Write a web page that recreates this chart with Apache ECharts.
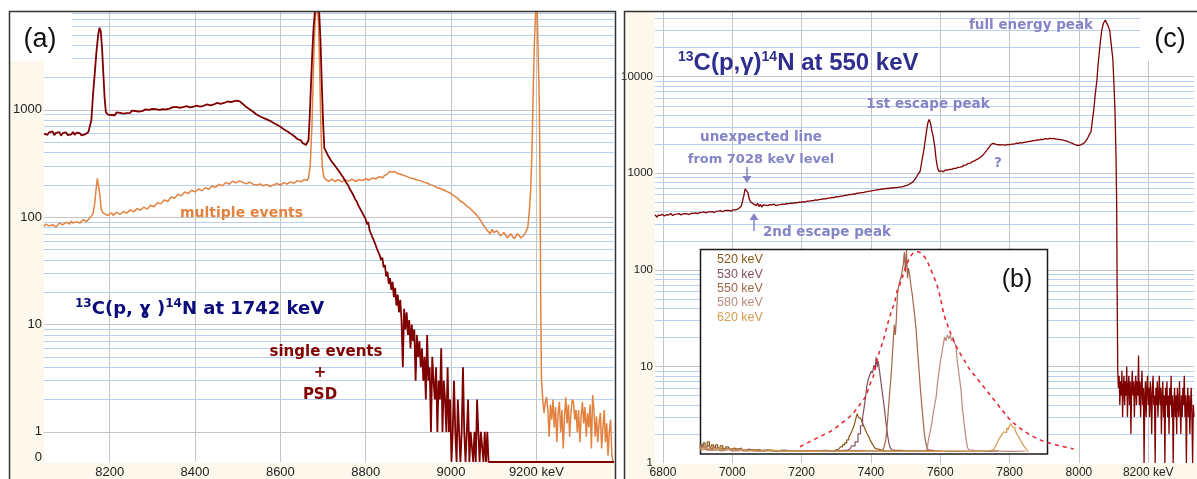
<!DOCTYPE html>
<html><head><meta charset="utf-8">
<script src="https://cdn.jsdelivr.net/npm/echarts@6/dist/echarts.min.js"></script>
<style>html,body{margin:0;padding:0;background:#fff}#c{width:1197px;height:479px}</style>
</head><body><div id="c"></div>
<script>
// ---------- tick labels ----------
const xTicksA = [8200, 8400, 8600, 8800, 9000, 9200];
const yTicksA = [1, 10, 100, 1000];
const xTicksC = [6800, 7000, 7200, 7400, 7600, 7800, 8000, 8200];
const yTicksC = [1, 10, 100, 1000, 10000];
const minorA = [2,3,4,5,6,7,8,9,20,30,40,50,60,70,80,90,200,300,400,500,600,700,800,900,2000,3000,4000,5000,6000,7000,8000];
const minorC = [2,3,4,5,6,7,8,9,20,30,40,50,60,70,80,90,200,300,400,500,600,700,800,900,2000,3000,4000,5000,6000,7000,8000,9000,20000,30000,40000];
const insetLegend = ['520 keV', '530 keV', '550 keV', '580 keV', '620 keV'];

// ---------- (a) 13C(p,g)14N at 1742 keV : single events + PSD ----------
const singleEvents = [
[8046,600],[8050,625],[8054,585],[8058,615],[8062,595],[8066,630],[8070,580],[8074,610],[8078,590],[8082,620],[8086,575],[8090,605],[8094,590],[8098,615],[8102,580],[8106,600],[8110,590],[8114,620],[8118,585],[8122,612],[8126,592],[8130,605],[8134,578],[8138,600],[8142,590],[8146,615],[8150,620],[8153,640],[8157,800],[8161,1400],[8165,2200],[8169,3500],[8173,5000],[8176,5800],[8179,5400],[8182,3800],[8185,2200],[8188,1300],[8191,950],
[8196,900],[8200,935],[8204,895],[8208,925],[8212,890],[8216,945],[8220,910],[8224,935],[8228,960],[8232,920],[8236,955],[8240,930],[8244,970],[8248,935],[8252,985],[8256,950],[8260,975],[8264,1000],[8268,960],[8272,995],[8276,972],[8280,965],[8284,1010],[8288,975],[8292,1000],[8296,985],[8300,1020],[8304,990],[8308,1015],[8312,1030],[8316,1000],[8320,1040],[8324,1012],[8328,1035],[8332,1010],[8336,1050],[8340,1025],[8344,1048],[8348,1060],[8352,1035],[8356,1065],[8360,1070],[8364,1045],[8368,1075],[8372,1058],[8376,1050],[8380,1080],[8384,1062],[8388,1055],[8392,1085],[8396,1068],[8400,1060],[8404,1095],[8408,1075],[8412,1070],[8416,1110],[8420,1090],[8424,1085],[8428,1125],[8432,1105],[8436,1100],[8440,1140],[8444,1122],[8448,1120],[8452,1160],[8456,1140],[8460,1135],[8464,1175],[8468,1158],[8472,1155],[8476,1195],[8480,1172],[8484,1180],[8488,1220],[8492,1205],[8495,1235],[8498,1218],[8501,1225],[8505,1200],[8510,1150],[8515,1110],[8520,1060],[8524,1030],[8528,1010],[8532,975],[8536,960],[8540,930],[8544,905],[8548,895],[8552,870],[8556,860],[8560,840],[8564,830],[8568,815],[8572,800],[8576,790],[8580,770],[8584,755],[8588,740],[8592,725],[8596,708],[8600,695],[8604,680],[8608,660],[8612,650],[8616,630],[8620,615],[8624,600],[8628,585],[8632,570],[8636,560],[8640,535],[8644,528],[8648,520],[8652,490],[8656,482],[8660,470],
[8663,460],[8666,520],[8669,900],[8672,1800],[8675,3500],[8678,6000],[8681,8200],[8684,9000],[8688,9000],[8691,8000],[8694,4500],[8697,1800],[8700,800],[8703,440],
[8707,410],[8711,380],[8715,365],[8719,335],[8723,330],[8727,305],[8731,290],[8735,280],[8739,262],[8743,255],[8747,235],[8751,228],[8755,208],[8759,198],[8763,182],[8767,172],[8771,160],[8775,148],[8779,140],[8783,128],[8787,124],[8791,112],[8795,104],[8799,98],
[8800,95],[8803,86],[8806,90],[8809,76],[8812,74],[8815,66],[8818,62],[8821,58],[8824,60],[8827,50],[8830,48],[8833,44],[8836,40],[8839,42],[8842,34],[8845,36],[8848,28],[8851,31],[8854,24],[8857,27],[8860,21],[8863,25],[8866,18],[8869,22],[8872,15],[8875,19],[8878,13],[8881,17],[8884,11],[8887,4],[8890,14],[8893,9],[8896,13],[8899,8],[8902,11],[8905,6],[8908,10],[8911,7],[8914,9],[8917,3],[8920,8],[8923,5],[8926,7],[8929,4],[8932,6],[8935,3],[8938,5],[8941,2],[8944,8],[8947,3],[8950,4],[8953,1],[8956,5],[8959,3],[8962,2],[8965,4],[8968,1],[8971,3],[8974,2],[8977,6],[8980,1],[8983,3],[8986,2],[8989,1],[8992,4],[8995,1],[8998,2],
[9001,0],[9004,1],[9007,3],[9010,1],[9013,0],[9016,2],[9019,1],[9022,0],[9025,1],[9028,4],[9031,1],[9034,0],[9037,1],[9040,2],[9043,0],[9046,1],[9049,1],[9052,0],[9055,1],[9058,0],[9061,2],[9064,1],[9067,0],[9070,1],[9073,1],[9076,0],[9079,1],[9082,0],[9085,1],[9088,0],[9200,0],[9382,0]
];

// ---------- (a) multiple events ----------
const multipleEvents = [
[8046,82],[8050,86],[8054,88],[8058,83],[8062,80],[8066,85],[8070,87],[8074,81],[8078,83],[8082,88],[8086,90],[8090,85],[8094,84],[8098,90],[8102,89],[8106,86],[8110,92],[8114,88],[8118,86],[8122,91],[8126,93],[8130,88],[8134,89],[8138,95],[8142,96],[8146,91],[8150,93],[8153,98],[8156,100],[8161,108],[8165,135],[8168,180],[8171,230],[8174,225],[8177,160],[8180,118],[8184,110],[8187,112],[8190,106],[8193,109],[8196,104],
[8200,108],[8204,110],[8208,104],[8212,105],[8216,111],[8220,112],[8224,106],[8228,107],[8232,113],[8236,116],[8240,109],[8244,110],[8248,117],[8252,118],[8256,112],[8260,113],[8264,120],[8268,122],[8272,116],[8276,117],[8280,124],[8284,126],[8288,119],[8292,121],[8296,129],[8300,131],[8304,125],[8308,127],[8312,136],[8316,139],[8320,133],[8324,135],[8328,145],[8332,147],[8336,140],[8340,143],[8344,154],[8348,157],[8352,150],[8356,153],[8360,164],[8364,167],[8368,158],[8372,161],[8376,172],[8380,174],[8384,166],[8388,169],[8392,178],[8396,180],[8400,172],[8404,175],[8408,183],[8412,184],[8416,176],[8420,179],[8424,188],[8428,190],[8432,182],[8436,185],[8440,195],[8444,197],[8448,189],[8452,192],[8456,202],[8460,204],[8464,196],[8468,199],[8472,210],[8476,213],[8480,203],[8484,206],[8488,216],[8492,219],[8496,209],[8500,212],[8504,218],[8508,221],[8512,211],[8516,213],[8520,204],[8524,208],[8528,212],[8532,215],[8536,203],[8540,205],[8544,198],[8548,200],[8552,204],[8556,207],[8560,196],[8564,198],[8568,202],[8572,204],[8576,193],[8580,195],[8584,200],[8588,202],[8592,206],[8596,208],[8600,199],[8604,201],[8608,210],[8612,212],[8616,203],[8620,205],[8624,213],[8628,215],[8632,207],[8636,209],[8640,219],[8644,222],[8648,213],[8652,215],[8656,224],[8660,226],[8663,220],[8666,232],
[8670,300],[8674,700],[8677,2000],[8680,5000],[8683,8500],[8686,9000],[8689,7000],[8692,2500],[8695,700],[8698,300],[8702,235],
[8705,226],[8708,222],[8711,214],[8714,216],[8717,224],[8720,226],[8724,219],[8728,215],[8732,221],[8736,224],[8740,216],[8744,213],[8748,220],[8752,222],[8756,214],[8760,217],[8764,224],[8768,226],[8772,218],[8776,215],[8780,222],[8784,224],[8788,216],[8792,219],[8796,226],[8800,228],[8804,219],[8808,221],[8812,230],[8816,232],[8820,224],[8824,227],[8828,236],[8832,238],[8836,230],[8840,233],[8844,244],[8848,247],[8851,252],[8854,258],[8856,266],[8858,272],[8860,268],[8862,262],[8865,270],[8868,266],[8871,258],[8874,255],[8877,258],[8880,252],[8884,249],[8888,246],[8892,243],[8896,240],[8900,236],[8904,232],[8908,233],[8912,229],[8916,225],[8920,222],[8924,221],[8928,219],[8932,214],[8936,212],[8940,210],[8944,208],[8948,202],[8952,200],[8956,198],[8960,196],[8964,190],[8968,188],[8972,186],[8976,184],[8980,180],[8984,178],[8988,174],[8992,172],[8996,168],[9000,166],[9004,160],[9008,157],[9012,153],[9016,150],[9020,143],[9024,140],[9028,137],[9032,134],[9036,128],[9040,125],[9044,121],[9048,119],[9052,113],[9056,110],[9060,105],[9064,102],[9068,95],[9072,90],[9076,84],[9080,80],[9084,76],[9088,74],[9092,70],[9096,77],[9100,72],[9104,70],[9108,75],[9112,73],[9116,67],[9120,68],[9124,72],[9128,71],[9132,64],[9136,66],[9140,70],[9144,69],[9148,63],[9152,65],[9156,70],[9160,68],[9164,64],[9168,66],[9172,69],[9175,72],[9180,80],[9184,120],[9187,190],
[9190,450],[9193,1800],[9196,5000],[9199,9000],[9202,8500],[9205,2500],[9207,1200],[9209,150],[9210,20],[9212,3.1],
[9215,2.0],[9218,1.5],[9221,1.9],[9224,2.1],[9227,1.6],[9230,0.9],[9233,1.8],[9236,1.3],[9239,2.0],[9242,1.1],[9245,1.7],[9248,0.8],[9251,1.5],[9254,1.9],[9257,1.0],[9260,1.6],[9263,0.7],[9266,1.4],[9269,2.1],[9272,1.2],[9275,1.8],[9278,0.9],[9281,1.5],[9284,2.0],[9287,1.9],[9290,1.3],[9293,1.6],[9296,1.0],[9299,1.6],[9302,0.8],[9305,1.4],[9308,1.9],[9311,1.2],[9314,1.7],[9317,0.9],[9320,1.5],[9323,1.1],[9326,1.8],[9329,0.7],[9332,2.2],[9335,1.6],[9338,0.9],[9341,1.4],[9344,0.8],[9347,1.2],[9350,1.5],[9353,0.7],[9356,1.1],[9359,1.6],[9362,0.8],[9365,1.2],[9368,0.6],[9371,1.0],[9374,1.3],[9377,0.6],[9380,0]
];

// ---------- (c) 13C(p,g)14N at 550 keV ----------
const spectrum550 = [
[6777,372],[6780,358],[6783,350],[6786,368],[6789,385],[6792,366],[6795,360],[6798,376],[6801,378],[6804,362],[6807,355],[6810,372],[6813,390],[6816,370],[6819,365],[6822,384],[6825,380],[6828,366],[6831,358],[6834,376],[6837,392],[6840,378],[6843,370],[6846,382],[6849,386],[6852,371],[6855,362],[6858,380],[6861,395],[6864,382],[6867,372],[6870,380],[6873,388],[6876,374],[6879,366],[6882,386],[6885,400],[6888,384],[6891,378],[6894,390],[6897,394],[6900,382],[6903,372],[6906,392],[6909,408],[6912,394],[6915,385],[6918,398],[6921,400],[6924,388],[6927,380],[6930,398],[6933,412],[6936,398],[6939,390],[6942,402],[6945,405],[6948,392],[6951,384],[6954,404],[6957,420],[6960,406],[6963,398],[6966,410],[6969,415],[6972,400],[6975,392],[6978,410],[6981,425],[6984,412],[6987,402],[6990,414],[6993,420],[6996,406],[6999,400],[7002,418],[7005,430],[7008,418],[7011,410],[7014,422],[7017,428],[7020,438],[7023,445],
[7026,458],[7029,480],[7033,580],[7037,690],[7041,720],[7045,630],[7049,540],[7053,505],[7057,520],[7061,482],[7065,502],[7069,462],[7073,490],[7077,452],[7081,476],[7085,446],[7089,470],[7093,450],[7096,468],[7099,480],[7102,462],[7105,456],[7108,474],[7111,486],[7114,470],[7117,462],[7120,480],[7123,474],[7126,462],[7129,455],[7132,472],[7135,482],[7138,474],[7141,468],[7144,480],[7147,488],[7150,476],[7153,470],[7156,486],[7159,495],[7162,484],[7165,478],[7168,492],[7171,500],[7174,488],[7177,482],[7180,498],[7183,505],[7186,494],[7189,488],[7192,502],[7195,510],[7198,500],[7201,495],[7204,508],[7207,515],[7210,504],[7213,500],[7216,516],[7219,525],[7222,514],[7225,508],[7228,522],[7231,532],[7234,520],[7237,515],[7240,530],[7243,540],[7246,528],[7249,522],[7252,538],[7255,548],[7258,536],[7261,530],[7264,546],[7267,555],[7270,544],[7273,538],[7276,554],[7279,565],[7282,552],[7285,548],[7288,562],[7291,572],[7294,560],[7297,555],[7300,572],[7303,582],[7306,570],[7309,565],[7312,580],[7315,592],[7318,580],[7321,575],[7324,590],[7327,600],[7330,590],[7333,585],[7336,600],[7339,610],[7342,600],[7345,595],[7348,610],[7351,622],[7354,610],[7357,605],[7360,622],[7363,635],[7366,622],[7369,618],[7372,632],[7375,645],[7378,632],[7381,628],[7384,642],[7387,655],[7390,645],[7393,640],[7396,655],[7399,668],[7402,656],[7405,650],[7408,666],[7411,680],[7414,668],[7417,662],[7420,678],[7423,690],[7426,678],[7429,672],[7432,688],[7435,700],[7438,690],[7441,685],[7444,698],[7447,705],[7450,696],[7453,692],[7456,704],[7459,712],[7462,704],[7465,700],[7468,710],[7471,718],[7474,712],[7477,708],[7480,718],[7483,725],[7486,720],[7489,715],[7492,728],[7495,735],[7498,740],[7501,745],[7504,750],[7507,755],[7510,770],[7513,785],[7516,792],[7519,800],[7522,820],[7525,840],[7530,900],[7536,980],[7542,1050],
[7547,1350],[7553,1770],[7558,2400],[7562,3000],[7565,3400],[7568,3600],[7572,3300],[7576,2700],[7579,2450],[7584,1900],[7588,1400],[7592,1150],[7596,1050],
[7600,1040],[7603,1062],[7606,1055],[7609,1040],[7612,1070],[7615,1082],[7618,1065],[7621,1078],[7624,1090],[7627,1100],[7630,1085],[7633,1098],[7636,1110],[7639,1125],[7642,1110],[7645,1122],[7648,1140],[7651,1150],[7654,1135],[7657,1160],[7660,1180],[7663,1172],[7666,1200],[7669,1215],[7672,1230],[7675,1222],[7678,1250],[7681,1268],[7684,1280],[7687,1275],[7690,1300],[7693,1322],[7696,1340],[7699,1345],[7702,1370],[7705,1392],[7708,1400],[7711,1420],[7714,1450],[7717,1478],[7720,1510],[7723,1545],[7726,1590],[7729,1640],[7732,1690],[7735,1750],[7738,1810],[7741,1870],[7744,1930],[7747,1990],[7750,2020],[7753,2045],[7756,2040],[7759,2010],[7762,1990],[7765,1975],[7768,1960],[7771,1985],[7774,1990],[7777,1965],[7780,1950],[7783,1972],[7786,1980],[7789,1958],[7792,1960],[7795,1990],[7798,2000],[7801,1985],[7804,1980],[7807,2005],[7810,2010],[7813,2000],[7816,2030],[7819,2048],[7822,2060],[7825,2040],[7828,2050],[7831,2078],[7834,2090],[7837,2070],[7840,2080],[7843,2105],[7846,2110],[7849,2098],[7852,2120],[7855,2142],[7858,2150],[7861,2138],[7864,2160],[7867,2182],[7870,2190],[7873,2178],[7876,2200],[7879,2222],[7882,2230],[7885,2212],[7888,2220],[7891,2246],[7894,2250],[7897,2238],[7900,2260],[7903,2282],[7906,2280],[7909,2262],[7912,2270],[7915,2296],[7918,2300],[7921,2284],[7924,2290],[7927,2300],[7930,2280],[7933,2262],[7936,2270],[7939,2262],[7942,2250],[7945,2232],[7948,2240],[7951,2225],[7954,2210],[7957,2190],[7960,2180],[7963,2165],[7966,2150],[7969,2128],[7972,2110],[7975,2085],[7978,2060],[7981,2038],[7984,2010],[7987,1990],[7990,1970],[7993,1952],[7996,1940],[7999,1948],[8002,1960],[8005,1972],[8008,1990],[8011,2015],[8014,2050],[8017,2095],[8020,2150],[8023,2240],[8026,2350],[8029,2450],[8031,2550],[8035,2700],
[8039,3600],[8043,4600],[8047,6500],[8052,9300],[8055,13000],[8058,16800],[8062,23000],[8066,30500],[8071,36000],[8076,38600],[8080,38000],[8085,33000],[8089,30000],[8093,22000],[8098,15000],[8101,8500],[8104,4500],[8107,1500],[8109,450],[8110,85],
[8112,9],[8114,6],[8116,8],[8118,4],[8120,7],[8122,5],[8124,9],[8126,3],[8128,6],[8130,8],[8132,4],[8134,7],[8136,5],[8138,10],[8140,3],[8142,6],[8144,8],[8146,4],[8148,7],[8150,2],[8152,6],[8154,9],[8156,5],[8158,7],[8160,3],[8162,6],[8164,8],[8166,4],[8168,7],[8170,5],[8172,13],[8174,4],[8176,7],[8178,3],[8180,6],[8182,9],[8184,4],[8186,6],[8188,1],[8190,5],[8192,7],[8194,3],[8196,6],[8198,8],[8200,4],[8202,6],[8204,3],[8206,7],[8208,5],[8210,2],[8212,6],[8214,8],[8216,4],[8218,5],[8220,1],[8222,6],[8224,4],[8226,7],[8228,3],[8230,5],[8232,8],[8234,4],[8236,6],[8238,2],[8240,5],[8242,7],[8244,3],[8246,5],[8248,1],[8250,6],[8252,4],[8254,7],[8256,3],[8258,5],[8260,2],[8262,6],[8264,4],[8266,8],[8268,3],[8270,5],[8272,1],[8274,4],[8276,6],[8278,3],[8280,5],[8282,2],[8284,6],[8286,4],[8288,3],[8290,7],[8292,4],[8294,2],[8296,5],[8298,3],[8300,6],[8302,4],[8304,8],[8306,3],[8308,5],[8310,1],[8312,4],[8314,6],[8316,3],[8318,5],[8320,2],[8322,4],[8324,6],[8326,3],[8328,1],[8330,4],[8332,3]
];

// ---------- (b) inset: full-energy peaks at several beam energies (arb. units) ----------
const inset520 = [
[6906,4],[6912,2.5],[6918,4.5],[6924,3],[6930,5],[6936,2.5],[6942,3.5],[6948,2],[6954,3.5],[6960,2],[6968,3],[6976,1.5],[6984,2.5],[6992,1.5],[7000,2],[7010,1.2],[7020,2],[7030,1],[7040,1.5],[7055,0.8],[7070,1.2],[7085,0.6],[7100,1],[7120,0.5],[7140,0.8],[7160,0.4],[7180,0.7],[7200,0.4],[7220,0.6],[7240,0.4],[7260,0.8],[7280,0.5],[7295,1],[7305,1.5],[7312,2.5],[7318,3.5],[7324,4.5],[7330,6],[7336,7.5],[7341,9],[7346,11],[7350,13],[7355,16],[7359,19],[7363,17],[7368,16.5],[7373,15],[7378,13],[7383,11],[7388,9],[7393,7.5],[7398,5.5],[7403,4],[7408,2.5],[7414,1.5],[7420,0.8],[7440,0.5],[7470,0.8],[7500,0.4],[7540,0.6],[7580,0.3]
];
const inset530 = [
[6906,2],[6914,3.5],[6922,2],[6930,3],[6938,1.5],[6946,2.5],[6956,1.2],[6966,2],[6976,1],[6988,1.8],[7000,1],[7015,1.5],[7030,0.8],[7050,1.2],[7070,0.6],[7090,1],[7110,0.5],[7140,0.8],[7170,0.4],[7200,0.6],[7240,0.4],[7280,0.6],[7320,0.8],[7336,1.5],[7346,3],[7356,5],[7363,9],[7370,13],[7375,17],[7379,22],[7383,27],[7387,33],[7391,36],[7395,38],[7399,40],[7403,39],[7407,43],[7410,41],[7413,47],[7416,42],[7419,45],[7422,41],[7425,37],[7428,33],[7431,29],[7434,25],[7437,21],[7440,16],[7443,12],[7446,8],[7450,4.5],[7454,2],[7458,1],[7470,0.5],[7500,0.3],[7540,0.5],[7600,0.3]
];
const inset550 = [
[6906,1.5],[6916,2.5],[6926,1.2],[6936,2],[6946,1],[6956,1.8],[6966,0.8],[6980,1.4],[6995,0.7],[7010,1.1],[7030,0.6],[7050,0.9],[7075,0.5],[7100,0.8],[7130,0.4],[7160,0.7],[7200,0.4],[7250,0.6],[7300,0.4],[7350,0.7],[7400,0.5],[7430,0.8],[7437,2],[7441,6],[7445,13],[7449,22],[7452,30],[7456,37],[7459,46],[7462,55],[7465,63],[7468,58],[7471,66],[7474,78],[7478,82],[7482,85],[7485,87],[7488,90],[7491,93],[7494,99],[7497,89],[7500,100],[7503,86],[7506,91],[7510,87],[7513,82],[7517,78],[7521,72],[7525,66],[7528,60],[7531,52],[7534,45],[7537,38],[7540,31],[7543,25],[7546,19],[7549,13],[7552,8],[7555,5],[7559,2.5],[7563,1],[7580,0.5],[7620,0.3],[7680,0.5],[7720,0.3],[7760,0.5]
];
const inset580 = [
[6906,1],[6920,1.8],[6935,0.8],[6950,1.5],[6965,0.6],[6980,1.2],[7000,0.5],[7030,0.9],[7060,0.4],[7100,0.7],[7150,0.3],[7200,0.5],[7300,0.3],[7400,0.5],[7480,0.3],[7540,0.6],[7556,1],[7560,2],[7565,7],[7570,11],[7574,15],[7578,20],[7582,24],[7585,27],[7590,34],[7594,40],[7598,45],[7602,49],[7606,53],[7610,57],[7614,55],[7618,58],[7622,56],[7626,58],[7630,55],[7634,57],[7638,54],[7642,53],[7645,46],[7648,42],[7651,38],[7654,34],[7657,30],[7660,22],[7663,18],[7666,13],[7669,9],[7672,5],[7676,2],[7680,1],[7700,0.4],[7740,0.6],[7780,0.3],[7840,0.5]
];
const inset620 = [
[6906,2.5],[6914,1.5],[6922,3],[6930,1.5],[6940,2.5],[6950,1.2],[6962,2],[6975,1],[6990,1.6],[7005,0.8],[7020,1.3],[7040,0.6],[7060,1],[7085,0.5],[7110,0.8],[7140,0.4],[7180,0.6],[7220,0.3],[7270,0.5],[7320,0.3],[7380,0.5],[7440,0.3],[7500,0.5],[7560,0.3],[7620,0.5],[7680,0.3],[7720,0.5],[7742,0.8],[7750,1.5],[7755,2.5],[7760,4],[7765,6],[7771,7.5],[7776,9],[7780,10],[7784,9.5],[7788,12],[7792,11],[7796,13],[7800,14],[7804,12.5],[7808,12],[7812,11],[7817,9],[7821,8],[7825,6.5],[7829,5.5],[7833,4],[7837,3],[7842,2],[7846,1],[7850,0]
];
const envelope = [
[7193,2.6],[7221,5.1],[7250,7.6],[7283,10.5],[7312,14.2],[7341,18.3],[7364,23.3],[7381,27.4],[7393,33.2],[7403,37.3],[7412,43.9],[7421,49.7],[7431,54.6],[7445,63.7],[7455,69.5],[7465,74.4],[7471,79.4],[7479,82.7],[7486,86],[7493,90.1],[7500,93.4],[7510,96.7],[7517,98.4],[7527,99.2],[7536,98.9],[7546,97.5],[7556,95],[7565,91.7],[7575,87.6],[7586,82.7],[7596,76.1],[7606,68],[7616,62.9],[7625,58.8],[7635,54.6],[7649,49.7],[7664,45.5],[7678,41.4],[7693,38.1],[7712,34],[7731,29.9],[7750,25.7],[7769,21.6],[7788,17.5],[7807,14.2],[7831,10.9],[7854,8.4],[7883,5.9],[7911,4.3],[7940,3],[7978,1.5]
];

// ---------- chart ----------
const A_MIN = 0.524, A_MAX = 8150, C_MIN = 1, C_MAX = 46800;
const toLogA = d => d.map(([e, v]) => [e, v <= 0 ? A_MIN : v]);
const toLogC = d => d.map(([e, v]) => [e, v < C_MIN ? C_MIN : v]);

const BEIGE = '#fdf8ec', MAJOR = '#c4c4c4', MINOR = '#b8cfee', LAV = '#8484c6';
const insetColors = ['#8c5a18', '#84505e', '#a4664a', '#b88c7a', '#d49a50'];
const FONT = 'Liberation Sans';

function minorLines(vals) {
  return { silent: true, symbol: 'none', z: 1, animation: false, label: { show: false },
    lineStyle: { color: MINOR, width: 1, type: 'solid' }, emphasis: { disabled: true },
    data: vals.map(v => ({ yAxis: v })) };
}
function xFmt(ticks) {
  return v => ticks.includes(v) ? (v === ticks[ticks.length - 1] ? v + ' keV' : String(v)) : '';
}
function txt(text, x, y, o) {
  return { type: 'text', z: 20, x: x, y: y, silent: true,
    style: Object.assign({ text: text, fill: '#222', fontFamily: FONT, fontSize: 12, align: 'left', verticalAlign: 'middle',
      textAlign: 'left', textVerticalAlign: 'middle' }, o || {}) };
}
function sup(color, size, family) {
  return { s: { fontSize: size, fontWeight: 'bold', fontFamily: family || FONT, fill: color, color: color, verticalAlign: 'top', lineHeight: size } };
}

const chart = echarts.init(document.getElementById('c'), null, { renderer: 'canvas' });
const option = {
  animation: false,
  backgroundColor: '#ffffff',
  textStyle: { fontFamily: FONT },
  grid: [
    { left: 44, top: 12, width: 570, height: 451 },
    { left: 655, top: 12, width: 542, height: 452 },
    { left: 655, top: 250, width: 542, height: 202 }
  ],
  xAxis: [
    { gridIndex: 0, type: 'value', min: 8046, max: 9382, minInterval: 200, maxInterval: 200, splitNumber: 7,
      axisLine: { show: false }, axisTick: { show: false },
      axisLabel: { margin: 4, fontSize: 13, color: '#222', fontFamily: FONT, formatter: xFmt(xTicksA) },
      splitLine: { show: true, showMinLine: false, showMaxLine: false, lineStyle: { color: MAJOR, width: 1 } } },
    { gridIndex: 1, type: 'value', min: 6777, max: 8332, minInterval: 200, maxInterval: 200, splitNumber: 8,
      axisLine: { show: false }, axisTick: { show: false },
      axisLabel: { margin: 4, fontSize: 12, color: '#222', fontFamily: FONT, formatter: xFmt(xTicksC) },
      splitLine: { show: true, showMinLine: false, showMaxLine: false, lineStyle: { color: MAJOR, width: 1 } } },
    { gridIndex: 2, type: 'value', min: 6777, max: 8332, show: false, splitLine: { show: false } }
  ],
  yAxis: [
    { gridIndex: 0, type: 'log', logBase: 10, min: A_MIN, max: A_MAX,
      axisLine: { show: false }, axisTick: { show: false },
      axisLabel: { margin: 2, fontSize: 13, color: '#222', fontFamily: FONT,
        formatter: v => v < 0.9 ? '{z|0}' : (yTicksA.includes(Math.round(v)) ? String(Math.round(v)) : ''),
        rich: { z: { fontSize: 13, fontFamily: FONT, color: '#222', padding: [0, 0, 10, 0] } } },
      splitLine: { show: true, showMinLine: false, showMaxLine: false, lineStyle: { color: MAJOR, width: 1 } } },
    { gridIndex: 1, type: 'log', logBase: 10, min: C_MIN, max: C_MAX,
      axisLine: { show: false }, axisTick: { show: false },
      axisLabel: { margin: 2, fontSize: 11.5, color: '#222', fontFamily: FONT,
        formatter: v => yTicksC.includes(Math.round(v)) ? String(Math.round(v)) : '' },
      splitLine: { show: true, showMinLine: false, showMaxLine: false, lineStyle: { color: MAJOR, width: 1 } } },
    { gridIndex: 2, type: 'value', min: 0, max: 100, show: false, splitLine: { show: false } }
  ],
  series: [
    { name: 'multiple events', type: 'line', xAxisIndex: 0, yAxisIndex: 0, data: toLogA(multipleEvents),
      symbol: 'none', z: 2, lineStyle: { color: '#e3813f', width: 1.5 }, silent: true },
    { name: 'single events + PSD', type: 'line', xAxisIndex: 0, yAxisIndex: 0, data: toLogA(singleEvents),
      symbol: 'none', z: 3, lineStyle: { color: '#800000', width: 1.8 }, silent: true, markLine: minorLines(minorA) },
    { name: '550 keV', type: 'line', xAxisIndex: 1, yAxisIndex: 1, data: toLogC(spectrum550),
      symbol: 'none', z: 2, lineStyle: { color: '#800000', width: 1.3 }, silent: true, markLine: minorLines(minorC) },
    ...[inset520, inset530, inset550, inset580, inset620].map((d, i) => ({
      name: insetLegend[i], type: 'line', xAxisIndex: 2, yAxisIndex: 2, data: d, step: 'middle', symbol: 'none',
      z: 6, clip: false, silent: true, lineStyle: { color: insetColors[i], width: 1.2 } })),
    { name: 'envelope', type: 'line', xAxisIndex: 2, yAxisIndex: 2, data: envelope, smooth: 0.3, symbol: 'none',
      z: 7, clip: false, silent: true, lineStyle: { color: '#e8202a', width: 1.5, type: [4, 4] } }
  ],
  graphic: { elements: [
    { type: 'rect', z: -1, silent: true, shape: { x: 10, y: 12, width: 34, height: 467 }, style: { fill: BEIGE } },
    { type: 'rect', z: -1, silent: true, shape: { x: 10, y: 463, width: 605, height: 16 }, style: { fill: BEIGE } },
    { type: 'rect', z: -1, silent: true, shape: { x: 625, y: 12, width: 30, height: 467 }, style: { fill: BEIGE } },
    { type: 'rect', z: -1, silent: true, shape: { x: 625, y: 464, width: 572, height: 15 }, style: { fill: BEIGE } },
    { type: 'rect', z: 4, silent: true, shape: { x: 10, y: 12, width: 62, height: 49 }, style: { fill: '#fff' } },
    { type: 'rect', z: 4, silent: true, shape: { x: 1140, y: 12, width: 57, height: 49 }, style: { fill: '#fff' } },
    { type: 'rect', z: 5, silent: true, shape: { x: 700.5, y: 249.5, width: 347, height: 204.5 }, style: { fill: '#fff', stroke: '#1a1a1a', lineWidth: 1.5 } },
    { type: 'polyline', z: 30, silent: true, shape: { points: [[9.5, 479], [9.5, 11.5], [615.5, 11.5], [615.5, 479]] }, style: { fill: null, stroke: '#333', lineWidth: 1.5 } },
    { type: 'polyline', z: 30, silent: true, shape: { points: [[624.5, 479], [624.5, 11.5], [1197, 11.5]] }, style: { fill: null, stroke: '#333', lineWidth: 1.5 } },
    txt('(a)', 40, 40, { fontSize: 27, fill: '#111', align: 'center', textAlign: 'center' }),
    txt('(c)', 1170, 40, { fontSize: 27, fill: '#111', align: 'center', textAlign: 'center' }),
    txt('(b)', 1017, 280, { fontSize: 25, fill: '#111', align: 'center', textAlign: 'center' }),
    txt('{s|13}C(p, ɣ ){s|14}N at 1742 keV', 75, 309, { fontSize: 18, fontWeight: 'bold', fontFamily: 'DejaVu Sans', fill: '#0c0c7c', lineHeight: 22, rich: sup('#0c0c7c', 12, 'DejaVu Sans') }),
    txt('{s|13}C(p,γ){s|14}N at 550 keV', 678, 63, { fontSize: 24, fontWeight: 'bold', fill: '#2e2e8e', lineHeight: 26, rich: sup('#2e2e8e', 14) }),
    txt('multiple events', 180, 213, { fontSize: 14, fontWeight: 'bold', fontFamily: 'DejaVu Sans', fill: '#e3813f' }),
    txt('single events', 326, 352, { fontSize: 15, fontWeight: 'bold', fontFamily: 'DejaVu Sans', fill: '#800000', align: 'center', textAlign: 'center' }),
    txt('+', 320, 373, { fontSize: 15, fontWeight: 'bold', fontFamily: 'DejaVu Sans', fill: '#800000', align: 'center', textAlign: 'center' }),
    txt('PSD', 320, 395, { fontSize: 15, fontWeight: 'bold', fontFamily: 'DejaVu Sans', fill: '#800000', align: 'center', textAlign: 'center' }),
    txt('full energy peak', 1031, 25, { fontSize: 13.5, fontWeight: 'bold', fontFamily: 'DejaVu Sans', fill: LAV, align: 'center', textAlign: 'center' }),
    txt('1st escape peak', 928, 104, { fontSize: 13.5, fontWeight: 'bold', fontFamily: 'DejaVu Sans', fill: LAV, align: 'center', textAlign: 'center' }),
    txt('unexpected line', 761, 137, { fontSize: 13.5, fontWeight: 'bold', fontFamily: 'DejaVu Sans', fill: LAV, align: 'center', textAlign: 'center' }),
    txt('from 7028 keV level', 761, 160, { fontSize: 13, fontWeight: 'bold', fontFamily: 'DejaVu Sans', fill: LAV, align: 'center', textAlign: 'center' }),
    txt('2nd escape peak', 827, 232, { fontSize: 13.5, fontWeight: 'bold', fontFamily: 'DejaVu Sans', fill: LAV, align: 'center', textAlign: 'center' }),
    txt('?', 998, 163, { fontSize: 13.5, fontWeight: 'bold', fontFamily: 'DejaVu Sans', fill: LAV, align: 'center', textAlign: 'center' }),
    { type: 'line', z: 20, silent: true, shape: { x1: 747, y1: 167, x2: 747, y2: 177 }, style: { stroke: LAV, lineWidth: 1.5 } },
    { type: 'polygon', z: 20, silent: true, shape: { points: [[742.5, 176], [751.5, 176], [747, 183]] }, style: { fill: LAV } },
    { type: 'polygon', z: 20, silent: true, shape: { points: [[749.5, 220], [758.5, 220], [754, 213]] }, style: { fill: LAV } },
    { type: 'line', z: 20, silent: true, shape: { x1: 754, y1: 219, x2: 754, y2: 231 }, style: { stroke: LAV, lineWidth: 1.5 } },
    ...insetLegend.map((t, i) => txt(t, 717, 260 + i * 14.3, { fontSize: 12.5, fill: insetColors[i] }))
  ] }
};
chart.setOption(option);
</script></body></html>
